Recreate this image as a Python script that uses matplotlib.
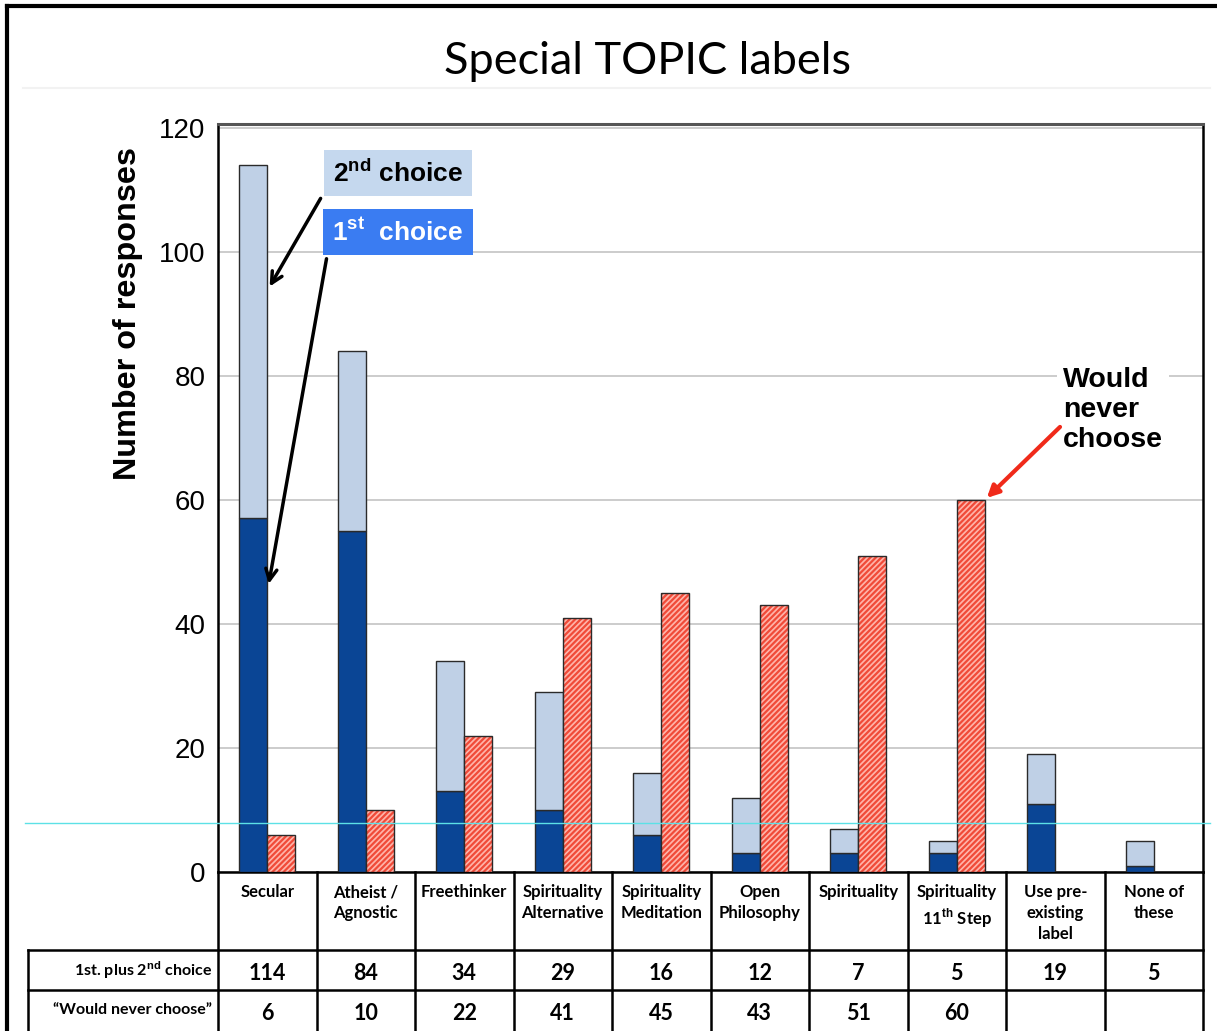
import matplotlib
matplotlib.use("Agg")
import matplotlib.pyplot as plt
from matplotlib.lines import Line2D
from matplotlib.transforms import blended_transform_factory

plt.rcParams['mathtext.fontset'] = 'custom'
plt.rcParams['mathtext.rm'] = 'Liberation Sans'
plt.rcParams['mathtext.bf'] = 'Liberation Sans:bold'
plt.rcParams['hatch.linewidth'] = 1.6

# survey counts per topic label
categories = ['Secular', 'Atheist /\nAgnostic', 'Freethinker', 'Spirituality\nAlternative',
              'Spirituality\nMeditation', 'Open\nPhilosophy', 'Spirituality',
              'Spirituality\n11$^{\\mathbf{th}}$ Step', 'Use pre-\nexisting\nlabel', 'None of\nthese']
first_choice = [57, 55, 13, 10, 6, 3, 3, 3, 11, 1]
first_plus_second = [114, 84, 34, 29, 16, 12, 7, 5, 19, 5]
never_choose = [6, 10, 22, 41, 45, 43, 51, 60, None, None]
second_choice = [t - f for t, f in zip(first_plus_second, first_choice)]

W, H = 1217, 1031
fig = plt.figure(figsize=(W / 100, H / 100), dpi=100)
fig.patch.set_facecolor('white')

# main bar axes, placed in pixel terms
x0, x1, ytop, ybot = 218, 1203, 124, 872
ax = fig.add_axes([x0 / W, 1 - ybot / H, (x1 - x0) / W, (ybot - ytop) / H])
n = len(categories)
xs = list(range(n))
bw = 0.285

dark_blue = '#0a4595'
light_blue = '#bfd0e6'
edge = '#2a2a2a'

ax.bar([x - bw for x in xs], first_choice, width=bw, align='edge',
       color=dark_blue, edgecolor=edge, linewidth=1, zorder=3)
ax.bar([x - bw for x in xs], second_choice, width=bw, align='edge', bottom=first_choice,
       color=light_blue, edgecolor=edge, linewidth=1, zorder=3)

red_x = [x for x, v in zip(xs, never_choose) if v is not None]
red_v = [v for v in never_choose if v is not None]
ax.bar(red_x, red_v, width=bw, align='edge', color='#ffb4aa', edgecolor='#f04a38',
       hatch='//////', linewidth=0, zorder=3)
ax.bar(red_x, red_v, width=bw, align='edge', fill=False, edgecolor=edge,
       linewidth=1, zorder=4)

ax.set_xlim(-0.5, n - 0.5)
ax.set_ylim(0, 120.6)
ax.set_yticks([0, 20, 40, 60, 80, 100, 120])
ax.tick_params(axis='y', length=0, pad=9, labelsize=20)
for lbl in ax.get_yticklabels():
    lbl.set_fontfamily('Liberation Sans')
ax.set_xticks([])
ax.yaxis.grid(True, color='#c8c8c8', linewidth=1.3, zorder=0)
ax.set_axisbelow(True)
for side in ['left', 'right', 'bottom']:
    ax.spines[side].set_color('black')
    ax.spines[side].set_linewidth(1.8)
ax.spines['top'].set_color('#555555')
ax.spines['top'].set_linewidth(2.2)

# overlay in pixel coordinates for the table, labels and frame
ov = fig.add_axes([0, 0, 1, 1], zorder=5)
ov.set_xlim(0, W)
ov.set_ylim(H, 0)
ov.axis('off')
ov.patch.set_alpha(0)

# frame and title
ov.add_line(Line2D([7, 7], [6, H], color='black', linewidth=3))
ov.add_line(Line2D([7, W], [6, 6], color='black', linewidth=3))
ov.add_line(Line2D([23, 1210], [88, 88], color='#f2f2f2', linewidth=1.5))
ov.text(648, 61, 'Special TOPIC labels', fontsize=32.5, fontfamily='Lato',
        ha='center', va='center')

ov.text(128, 314, 'Number of responses', rotation=90, fontsize=23.3,
        fontweight='bold', fontfamily='Liberation Sans', ha='center', va='center')

# table below the bars
tb = blended_transform_factory(ax.transData, ov.transData)
lw_t = 1.8
for k in range(n + 1):
    ov.plot([k - 0.5, k - 0.5], [872, H], color='black', linewidth=lw_t, transform=tb)
ov.add_line(Line2D([28, 28], [950, H], color='black', linewidth=lw_t))
for yy in [950, 990]:
    ov.add_line(Line2D([28, x1], [yy, yy], color='black', linewidth=lw_t))

for i, cat in enumerate(categories):
    ov.text(i, 884, cat, transform=tb, ha='center', va='top', fontsize=12,
            fontweight='bold', fontfamily='Lato', linespacing=1.38)
    ov.text(i, 973, str(first_plus_second[i]), transform=tb, ha='center', va='center',
            fontsize=15.5, fontweight='bold', fontfamily='Lato')
    if never_choose[i] is not None:
        ov.text(i, 1014, str(never_choose[i]), transform=tb, ha='center', va='center',
                fontsize=15.5, fontweight='bold', fontfamily='Lato')

ov.text(212, 970, '1st. plus 2$^{\\mathbf{nd}}$ choice', ha='right', va='center',
        fontsize=11.5, fontweight='bold', fontfamily='Lato')
ov.text(212, 1010, '\u201cWould never choose\u201d', ha='right', va='center',
        fontsize=11.5, fontweight='bold', fontfamily='Lato')

# choice labels with arrows into the Secular bar
ov.text(398, 173, '2$^{\\mathbf{nd}}$ choice', ha='center', va='center', fontsize=19,
        fontweight='bold', fontfamily='Liberation Sans', color='black',
        bbox=dict(boxstyle='square,pad=0.35', facecolor='#c5d8ee', edgecolor='none'))
ov.text(398, 232, '1$^{\\mathbf{st}}$  choice', ha='center', va='center', fontsize=19,
        fontweight='bold', fontfamily='Liberation Sans', color='white',
        bbox=dict(boxstyle='square,pad=0.35', facecolor='#3a7cf2', edgecolor='none'))
ov.annotate('', xy=(0.01, 94), xycoords=ax.transData, xytext=(322, 196),
            textcoords=ov.transData,
            arrowprops=dict(arrowstyle='->,head_length=0.8,head_width=0.4',
                            color='black', linewidth=2.5))
ov.annotate('', xy=(0.01, 46), xycoords=ax.transData, xytext=(327, 256),
            textcoords=ov.transData,
            arrowprops=dict(arrowstyle='->,head_length=0.8,head_width=0.4',
                            color='black', linewidth=2.5))

# never-choose callout
ov.text(1063, 410, 'Would\nnever\nchoose', ha='left', va='center', fontsize=20.5,
        fontweight='bold', fontfamily='Liberation Sans', linespacing=1.22,
        bbox=dict(boxstyle='square,pad=0.2', facecolor='white', edgecolor='none'))
ov.annotate('', xy=(7 + bw, 60), xycoords=ax.transData, xytext=(1062, 425),
            textcoords=ov.transData,
            arrowprops=dict(arrowstyle='-|>,head_length=0.7,head_width=0.35',
                            color='#f02a1a', linewidth=3))

ov.add_line(Line2D([25, 1210], [823, 823], color='#5ce1e6', linewidth=1))

fig.savefig('out.png', dpi=100)
